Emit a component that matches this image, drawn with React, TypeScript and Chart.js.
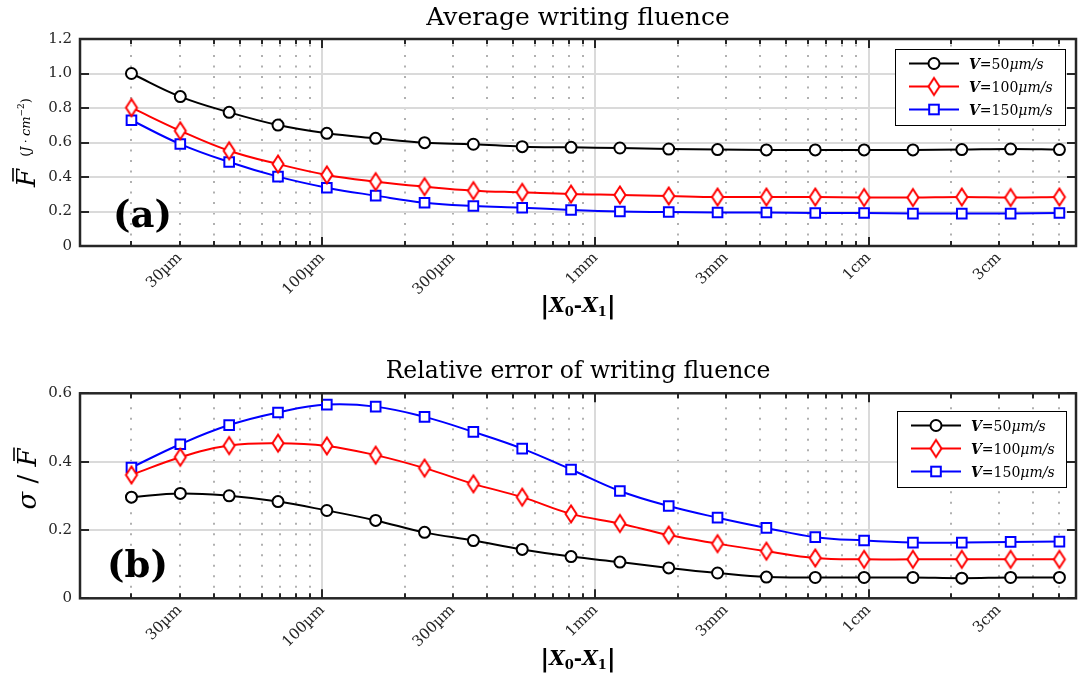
import React, { useEffect, useRef } from "react";
import { Chart, registerables } from "chart.js";

Chart.register(...registerables);

// ---------------- data ----------------
const X_POSITIONS_UM = [
  20, 30.19, 45.58, 68.81, 103.85, 156.78, 236.7, 357.3, 539.3, 814.2, 1229, 1855,
  2800, 4227, 6381, 9632, 14540, 21950, 33134, 50000,
];
const SPEED_LABELS = ["50", "100", "150"];

const FLUENCE_V50 = [1.0, 0.866, 0.775, 0.701, 0.653, 0.624, 0.599, 0.59, 0.576, 0.572, 0.568, 0.562, 0.559, 0.557, 0.557, 0.557, 0.557, 0.559, 0.562, 0.559];
const FLUENCE_V100 = [0.802, 0.668, 0.552, 0.475, 0.412, 0.373, 0.344, 0.321, 0.311, 0.301, 0.296, 0.29, 0.284, 0.284, 0.284, 0.281, 0.281, 0.284, 0.281, 0.284];
const FLUENCE_V150 = [0.729, 0.591, 0.487, 0.402, 0.338, 0.292, 0.251, 0.232, 0.222, 0.209, 0.2, 0.197, 0.194, 0.194, 0.191, 0.191, 0.188, 0.188, 0.188, 0.191];

const RELERR_V50 = [0.296, 0.307, 0.3, 0.283, 0.257, 0.228, 0.193, 0.169, 0.143, 0.122, 0.106, 0.089, 0.074, 0.062, 0.061, 0.061, 0.061, 0.059, 0.061, 0.061];
const RELERR_V100 = [0.361, 0.413, 0.447, 0.454, 0.446, 0.419, 0.381, 0.335, 0.296, 0.247, 0.219, 0.185, 0.16, 0.138, 0.118, 0.114, 0.114, 0.114, 0.114, 0.114];
const RELERR_V150 = [0.383, 0.451, 0.507, 0.544, 0.567, 0.561, 0.531, 0.487, 0.438, 0.377, 0.314, 0.27, 0.236, 0.206, 0.179, 0.169, 0.163, 0.163, 0.165, 0.166];

const X_TICK_VALUES = [30, 100, 300, 1000, 3000, 10000, 30000];
const X_TICK_LABELS = ["30µm", "100µm", "300µm", "1mm", "3mm", "1cm", "3cm"];
const X_MIN = 12.96;
const X_MAX = 57500;
const X_DECADES = [10, 100, 1000, 10000];

// ---------------- style ----------------
const SERIF = '"DejaVu Serif", serif';
const FRAME = "#262626";
const COLORS = ["#000000", "#ff0000", "#0000ff"];

function gridValues(): { v: number; major: boolean }[] {
  const out: { v: number; major: boolean }[] = [];
  for (const d of X_DECADES) {
    for (let k = 1; k <= 9; k++) {
      const v = k * d;
      if (v >= X_MIN && v <= X_MAX) out.push({ v, major: k === 1 });
    }
  }
  return out;
}

function makeDiamond(color: string) {
  const c = document.createElement("canvas");
  c.width = 16;
  c.height = 22;
  const g = c.getContext("2d")!;
  g.strokeStyle = color;
  g.lineWidth = 2;
  g.fillStyle = "#ffffff";
  g.beginPath();
  g.moveTo(8, 2.5);
  g.lineTo(13.5, 11);
  g.lineTo(8, 19.5);
  g.lineTo(2.5, 11);
  g.closePath();
  g.fill();
  g.stroke();
  return c;
}

function drawSegments(ctx: CanvasRenderingContext2D, segs: [string, string, number][], startX: number, baseline: number) {
  let x = startX;
  for (const [t, f, dy] of segs) {
    ctx.font = f;
    ctx.fillText(t, x, baseline + dy);
    x += ctx.measureText(t).width;
  }
  return x;
}

function segWidth(ctx: CanvasRenderingContext2D, segs: [string, string, number][]) {
  let w = 0;
  for (const [t, f] of segs) {
    ctx.font = f;
    w += ctx.measureText(t).width;
  }
  return w;
}

const decorPlugin = {
  id: "decor",
  beforeDatasetsDraw(chart: any, _args: any, o: any) {
    const { ctx, chartArea: a } = chart;
    const xs = chart.scales.x;
    const ys = chart.scales.y;
    ctx.save();
    ctx.beginPath();
    ctx.rect(a.left, a.top, a.right - a.left, a.bottom - a.top);
    ctx.clip();
    const gv = gridValues();
    // minor dotted grid
    ctx.setLineDash([2, 8.5]);
    ctx.strokeStyle = "#a8a8a8";
    ctx.lineWidth = 1.8;
    for (const g of gv) {
      if (g.major) continue;
      const px = Math.round(xs.getPixelForValue(g.v));
      ctx.beginPath();
      ctx.moveTo(px, a.bottom);
      ctx.lineTo(px, a.top);
      ctx.stroke();
    }
    ctx.setLineDash([]);
    ctx.strokeStyle = "#dadada";
    ctx.lineWidth = 2;
    for (const g of gv) {
      if (!g.major) continue;
      const px = Math.round(xs.getPixelForValue(g.v));
      ctx.beginPath();
      ctx.moveTo(px, a.bottom);
      ctx.lineTo(px, a.top);
      ctx.stroke();
    }
    for (const t of ys.ticks) {
      const py = Math.round(ys.getPixelForValue(t.value));
      ctx.beginPath();
      ctx.moveTo(a.left, py);
      ctx.lineTo(a.right, py);
      ctx.stroke();
    }
    ctx.restore();
  },
  afterDatasetsDraw(chart: any, _args: any, o: any) {
    const { ctx, chartArea: a } = chart;
    const xs = chart.scales.x;
    const ys = chart.scales.y;
    ctx.save();
    // inward ticks
    ctx.strokeStyle = FRAME;
    ctx.lineWidth = 2;
    for (const g of gridValues()) {
      const px = Math.round(xs.getPixelForValue(g.v));
      const len = g.major ? 9 : 5;
      ctx.beginPath();
      ctx.moveTo(px, a.bottom);
      ctx.lineTo(px, a.bottom - len);
      ctx.moveTo(px, a.top);
      ctx.lineTo(px, a.top + len);
      ctx.stroke();
    }
    for (const t of ys.ticks) {
      const py = Math.round(ys.getPixelForValue(t.value));
      ctx.beginPath();
      ctx.moveTo(a.left, py);
      ctx.lineTo(a.left + 9, py);
      ctx.moveTo(a.right, py);
      ctx.lineTo(a.right - 9, py);
      ctx.stroke();
    }
    // frame
    ctx.lineWidth = 2.5;
    ctx.strokeRect(a.left, a.top, a.right - a.left, a.bottom - a.top);

    // legend
    const [lx, ly, lw, lh] = o.legendBox;
    ctx.fillStyle = "#ffffff";
    ctx.fillRect(lx, ly, lw, lh);
    ctx.strokeStyle = "#000";
    ctx.lineWidth = 1;
    ctx.strokeRect(lx + 0.5, ly + 0.5, lw, lh);
    chart.data.datasets.forEach((ds: any, i: number) => {
      const cy = ly + 14.5 + i * 23;
      ctx.strokeStyle = ds.borderColor;
      ctx.lineWidth = 2;
      ctx.beginPath();
      ctx.moveTo(lx + 14, cy);
      ctx.lineTo(lx + 64, cy);
      ctx.stroke();
      const mx = lx + 39;
      if (ds.pointStyle === "circle") {
        ctx.fillStyle = "#fff";
        ctx.beginPath();
        ctx.arc(mx, cy, ds.pointRadius, 0, Math.PI * 2);
        ctx.fill();
        ctx.stroke();
      } else if (ds.pointStyle === "rect") {
        const s = ds.pointRadius * Math.SQRT1_2;
        ctx.fillStyle = "#fff";
        ctx.fillRect(mx - s, cy - s, 2 * s, 2 * s);
        ctx.strokeRect(mx - s, cy - s, 2 * s, 2 * s);
      } else if (ds.pointStyle instanceof HTMLCanvasElement) {
        const c = ds.pointStyle;
        ctx.drawImage(c, mx - c.width / 2, cy - c.height / 2);
      }
      ctx.fillStyle = "#000";
      ctx.textBaseline = "alphabetic";
      ctx.textAlign = "left";
      drawSegments(
        ctx,
        [
          ["V", `italic bold 14px ${SERIF}`, 0],
          ["=" + SPEED_LABELS[i], `14px ${SERIF}`, 0],
          ["μm/s", `italic 14px ${SERIF}`, 0],
        ],
        lx + 74,
        cy + 5
      );
    });

    // panel letter
    ctx.fillStyle = "#000";
    ctx.font = `bold 37px ${SERIF}`;
    ctx.textAlign = "left";
    ctx.textBaseline = "alphabetic";
    ctx.fillText(o.panel, o.panelX, o.panelBaseline);

    // x axis title |X0-X1|
    const xsegs: [string, string, number][] = [
      ["|", `bold 25px ${SERIF}`, 2],
      ["X", `italic bold 20px ${SERIF}`, 0],
      ["0", `bold 13px ${SERIF}`, 4],
      ["-", `bold 20px ${SERIF}`, 0],
      ["X", `italic bold 20px ${SERIF}`, 0],
      ["1", `bold 13px ${SERIF}`, 4],
      ["|", `bold 25px ${SERIF}`, 2],
    ];
    const cx = (a.left + a.right) / 2;
    const w = segWidth(ctx, xsegs);
    drawSegments(ctx, xsegs, cx - w / 2, o.xLabelBaseline);

    // y axis title
    ctx.save();
    if (o.yLabel === "F") {
      const fFont = `italic 26px ${SERIF}`;
      const uSegs: [string, string, number][] = [
        ["(", `13px ${SERIF}`, 0],
        ["J", `italic 13px ${SERIF}`, 0],
        [" · ", `11px ${SERIF}`, 0],
        ["cm", `italic 13px ${SERIF}`, 0],
        ["−2", `9px ${SERIF}`, -6],
        [")", `13px ${SERIF}`, 0],
      ];
      ctx.font = fFont;
      const wF = ctx.measureText("F").width;
      const wU = segWidth(ctx, uSegs);
      const total = wF + 12 + wU;
      const cyMid = (a.top + a.bottom) / 2;
      ctx.translate(35, cyMid + total / 2);
      ctx.rotate(-Math.PI / 2);
      ctx.font = fFont;
      ctx.fillText("F", 0, 0);
      ctx.strokeStyle = "#000";
      ctx.lineWidth = 1.6;
      ctx.beginPath();
      ctx.moveTo(wF * 0.3, -22);
      ctx.lineTo(wF * 1.05, -22);
      ctx.stroke();
      drawSegments(ctx, uSegs, wF + 12, -5);
    } else {
      const segs: [string, string, number][] = [
        ["σ", `italic 26px ${SERIF}`, 0],
        [" / ", `26px ${SERIF}`, 0],
        ["F", `italic 26px ${SERIF}`, 0],
      ];
      const total = segWidth(ctx, segs);
      ctx.translate(36, o.yLabelCenter + total / 2);
      ctx.rotate(-Math.PI / 2);
      const end = drawSegments(ctx, segs, 0, 0);
      ctx.font = `italic 26px ${SERIF}`;
      const wF = ctx.measureText("F").width;
      ctx.strokeStyle = "#000";
      ctx.lineWidth = 1.6;
      ctx.beginPath();
      ctx.moveTo(end - wF * 0.7, -22);
      ctx.lineTo(end + wF * 0.05, -22);
      ctx.stroke();
    }
    ctx.restore();
    ctx.restore();
  },
};

type PanelCfg = {
  canvasH: number;
  xHeight: number;
  yMax: number;
  title: string;
  titleSize: number;
  titlePadTop: number;
  titlePadBottom: number;
  series: number[][];
  yLabel: "F" | "sigma";
  yLabelCenter?: number;
  panel: string;
  panelX: number;
  panelBaseline: number;
  legendBox: [number, number, number, number];
  xLabelBaseline: number;
};

function buildChart(canvas: HTMLCanvasElement, cfg: PanelCfg) {
  const styles: any[] = ["circle", makeDiamond(COLORS[1]), "rect"];
  const radii = [5.5, 8, 6.8];
  const datasets = cfg.series.map((vals, i) => ({
    label: "V=" + SPEED_LABELS[i] + "μm/s",
    data: X_POSITIONS_UM.map((x, j) => ({ x, y: vals[j] })),
    borderColor: COLORS[i],
    backgroundColor: COLORS[i],
    borderWidth: 2,
    tension: 0.4,
    pointStyle: styles[i],
    pointRadius: radii[i],
    pointBorderWidth: 2,
    pointBorderColor: COLORS[i],
    pointBackgroundColor: "#ffffff",
  }));
  return new Chart(canvas, {
    type: "line",
    data: { datasets },
    options: {
      responsive: false,
      animation: false,
      events: [],
      layout: { padding: { top: 0, left: 0, right: 3, bottom: 0 } },
      plugins: {
        legend: { display: false },
        tooltip: { enabled: false },
        title: {
          display: true,
          text: cfg.title,
          fullSize: false,
          color: "#000",
          font: { family: SERIF, size: cfg.titleSize, weight: "normal", lineHeight: 1.2 },
          padding: { top: cfg.titlePadTop, bottom: cfg.titlePadBottom },
        },
        decor: cfg,
      } as any,
      scales: {
        x: {
          type: "logarithmic",
          min: X_MIN,
          max: X_MAX,
          bounds: "data",
          grid: { display: false, drawTicks: false },
          border: { display: false },
          afterBuildTicks: (s: any) => {
            s.ticks = X_TICK_VALUES.map((v) => ({ value: v }));
          },
          afterFit: (s: any) => {
            s.height = cfg.xHeight;
          },
          ticks: {
            autoSkip: false,
            maxRotation: 45,
            minRotation: 45,
            padding: 3,
            color: FRAME,
            font: { family: SERIF, size: 15 },
            callback: (v: any) => {
              const i = X_TICK_VALUES.indexOf(Number(v));
              return i >= 0 ? X_TICK_LABELS[i] : "";
            },
          },
        },
        y: {
          type: "linear",
          min: 0,
          max: cfg.yMax,
          grid: { display: false, drawTicks: false },
          border: { display: false },
          afterFit: (s: any) => {
            s.width = 80;
          },
          ticks: {
            stepSize: 0.2,
            padding: 8,
            color: FRAME,
            font: { family: SERIF, size: 15 },
            callback: (v: any) => (Number(v) === 0 ? "0" : Number(v).toFixed(1)),
          },
        },
      } as any,
    },
    plugins: [decorPlugin as any],
  });
}

const TOP: PanelCfg = {
  canvasH: 340,
  xHeight: 94,
  yMax: 1.2,
  title: "Average writing fluence",
  titleSize: 25,
  titlePadTop: 3,
  titlePadBottom: 6,
  series: [FLUENCE_V50, FLUENCE_V100, FLUENCE_V150],
  yLabel: "F",
  panel: "(a)",
  panelX: 113,
  panelBaseline: 227,
  legendBox: [895, 49, 170, 76],
  xLabelBaseline: 312,
};

const BOTTOM: PanelCfg = {
  canvasH: 337,
  xHeight: 78.7,
  yMax: 0.6,
  title: "Relative error of writing fluence",
  titleSize: 23.5,
  titlePadTop: 17.9,
  titlePadBottom: 7.2,
  series: [RELERR_V50, RELERR_V100, RELERR_V150],
  yLabel: "sigma",
  yLabelCenter: 139,
  panel: "(b)",
  panelX: 107,
  panelBaseline: 237,
  legendBox: [897, 71, 169, 76],
  xLabelBaseline: 325,
};

function Panel({ cfg, top }: { cfg: PanelCfg; top: number }) {
  const ref = useRef<HTMLCanvasElement | null>(null);
  useEffect(() => {
    if (!ref.current) return;
    const ch = buildChart(ref.current, cfg);
    return () => ch.destroy();
  }, [cfg]);
  return (
    <canvas
      ref={ref}
      width={1086}
      height={cfg.canvasH}
      style={{ position: "absolute", left: 0, top, width: 1086, height: cfg.canvasH, display: "block" }}
    />
  );
}

export default function App() {
  return (
    <div style={{ position: "absolute", left: 0, top: 0, width: 1086, height: 677, background: "#ffffff", overflow: "hidden" }}>
      <Panel cfg={TOP} top={0} />
      <Panel cfg={BOTTOM} top={340} />
    </div>
  );
}
